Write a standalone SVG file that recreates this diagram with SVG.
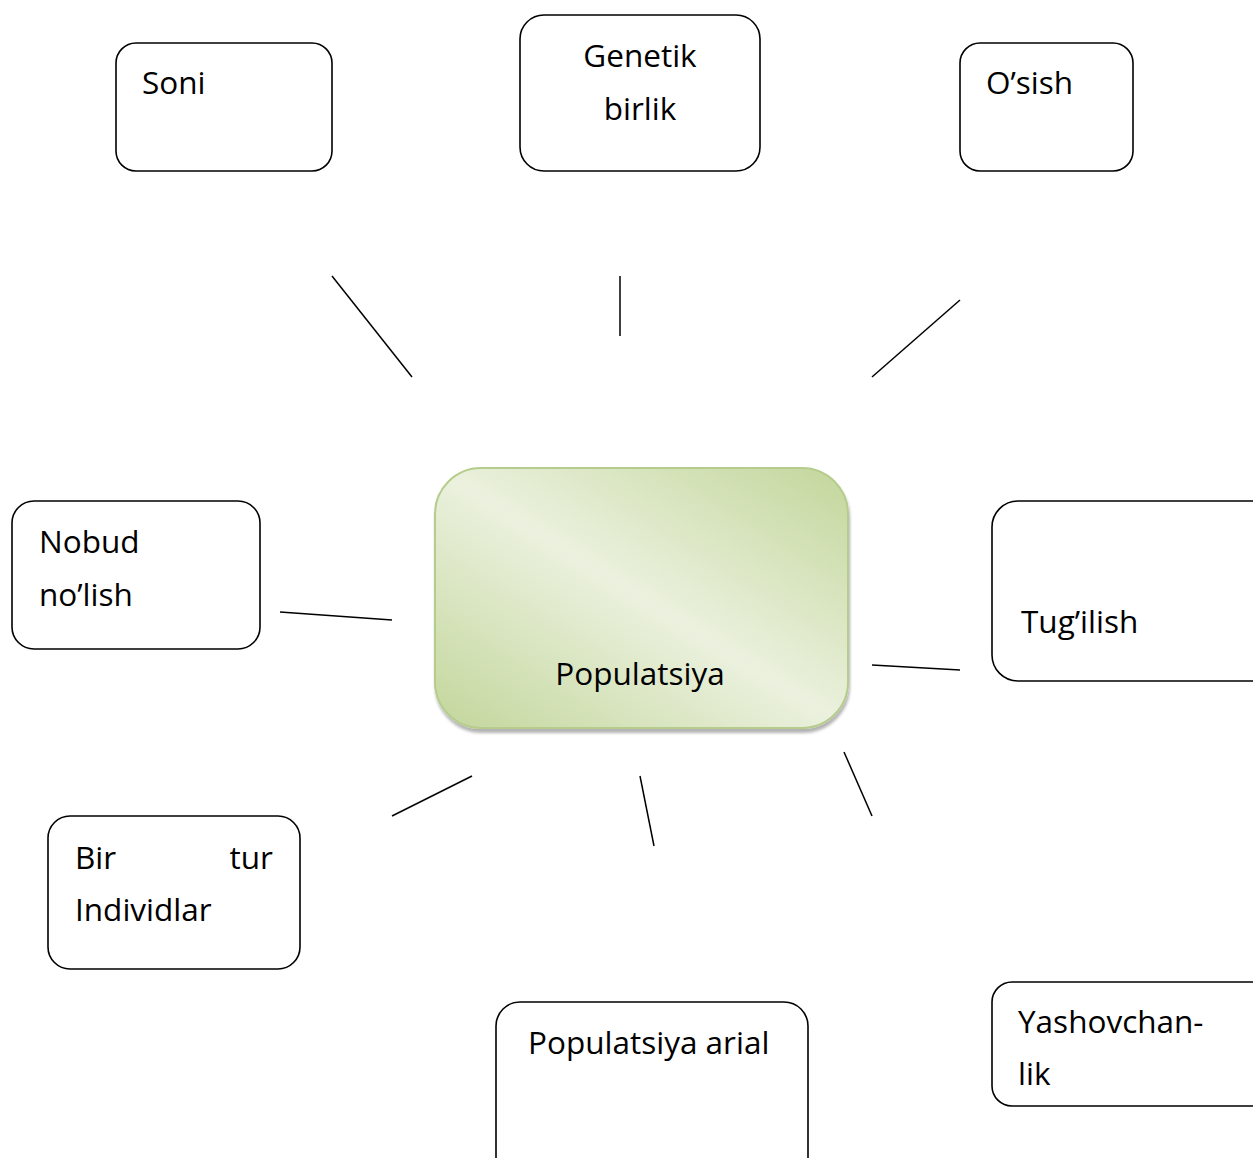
<svg xmlns="http://www.w3.org/2000/svg" width="1253" height="1158" viewBox="0 0 1253 1158">
<style>
.box{fill:#fff;stroke:#000;stroke-width:1.6}
.t{font-family:"Open Sans","Noto Sans","Liberation Sans",sans-serif;font-size:31.5px;fill:#000}
.c line{stroke:#000;stroke-width:1.5}
</style>
<defs>
<linearGradient id="g" x1="0" y1="1" x2="1" y2="0">
<stop offset="0" stop-color="#c3d69b"/>
<stop offset="0.5" stop-color="#ebf1de"/>
<stop offset="1" stop-color="#c3d69b"/>
</linearGradient>
<filter id="sh" x="-10%" y="-10%" width="120%" height="130%">
<feGaussianBlur in="SourceAlpha" stdDeviation="1.5"/>
<feOffset dx="1" dy="4"/>
<feComponentTransfer><feFuncA type="linear" slope="0.3"/></feComponentTransfer>
<feMerge><feMergeNode/><feMergeNode in="SourceGraphic"/></feMerge>
</filter>
</defs>
<rect width="1253" height="1158" fill="#fff"/>
<g class="c" id="connectors">
<line x1="332" y1="276" x2="412" y2="377"/>
<line x1="620" y1="276" x2="620" y2="336"/>
<line x1="960" y1="300" x2="872" y2="377"/>
<line x1="280" y1="612" x2="392" y2="620"/>
<line x1="872" y1="665" x2="960" y2="670"/>
<line x1="472" y1="776" x2="392" y2="816"/>
<line x1="640" y1="776" x2="654" y2="846"/>
<line x1="844" y1="752" x2="872" y2="816"/>
</g>
<g id="soni">
<rect class="box" x="116" y="43" width="216" height="128" rx="20"/>
<text class="t" x="142" y="94">Soni</text>
</g>
<g id="genetik">
<rect class="box" x="520" y="15" width="240" height="156" rx="24"/>
<text class="t" x="640" y="67" text-anchor="middle">Genetik</text>
<text class="t" x="640" y="120" text-anchor="middle">birlik</text>
</g>
<g id="osish">
<rect class="box" x="960" y="43" width="173" height="128" rx="20"/>
<text class="t" x="986" y="94">O’sish</text>
</g>
<g id="nobud">
<rect class="box" x="12" y="501" width="248" height="148" rx="22"/>
<text class="t" x="39" y="553">Nobud</text>
<text class="t" x="39" y="606">no’lish</text>
</g>
<g id="populatsiya">
<rect x="435" y="468" width="413" height="260" rx="46" fill="url(#g)" stroke="#b6cc8c" stroke-width="2" filter="url(#sh)"/>
<text class="t" x="640" y="685" text-anchor="middle">Populatsiya</text>
</g>
<g id="tugilish">
<rect class="box" x="992" y="501" width="290" height="180" rx="26"/>
<text class="t" x="1021" y="633">Tug’ilish</text>
</g>
<g id="birtur">
<rect class="box" x="48" y="816" width="252" height="153" rx="22"/>
<text class="t" x="75" y="869">Bir</text>
<text class="t" x="273" y="869" text-anchor="end">tur</text>
<text class="t" x="75" y="921">Individlar</text>
</g>
<g id="arial">
<rect class="box" x="496" y="1002" width="312" height="190" rx="24"/>
<text class="t" x="528" y="1054">Populatsiya arial</text>
</g>
<g id="yashov">
<rect class="box" x="992" y="982" width="290" height="124" rx="20"/>
<text class="t" x="1018" y="1033">Yashovchan-</text>
<text class="t" x="1018" y="1085">lik</text>
</g>
</svg>
